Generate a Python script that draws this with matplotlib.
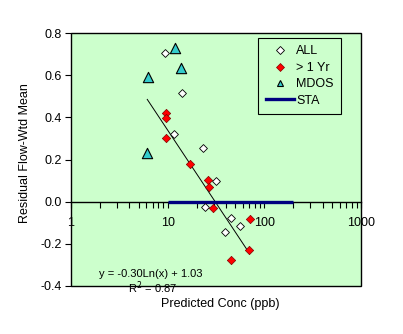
import matplotlib
matplotlib.use("Agg")
import matplotlib.pyplot as plt
import numpy as np
from matplotlib.patches import Rectangle
from matplotlib.ticker import LogLocator, NullFormatter, FixedLocator

plt.rcParams["font.family"] = ["Liberation Sans", "DejaVu Sans"]

# ALL (open diamonds)
all_x = [9.4, 14.0, 11.6, 23.2, 31.3, 24.1, 45.2, 55.6, 38.8]
all_y = [0.707, 0.517, 0.323, 0.256, 0.098, -0.024, -0.076, -0.114, -0.142]

# > 1 Yr (red diamonds)
yr_x = [9.5, 9.5, 9.5, 17.0, 26.1, 26.7, 29.4, 70.5, 68.8, 45.2]
yr_y = [0.421, 0.399, 0.304, 0.179, 0.104, 0.071, -0.028, -0.082, -0.228, -0.278]

# MDOS (triangles)
mdos_x = [11.9, 13.6, 6.25, 6.15]
mdos_y = [0.728, 0.633, 0.59, 0.232]

# STA line
sta_x = [10, 200]
sta_y = [0, 0]

# log trendline y = a*ln(x) + b
trend_a = -0.30
trend_b = 1.03
trend_xrange = [6.15, 70.5]

x_ticks = [1, 10, 100, 1000]
y_ticks = [-0.4, -0.2, 0.0, 0.2, 0.4, 0.6, 0.8]

fig = plt.figure(figsize=(4.03, 3.34), dpi=100)
ax = fig.add_axes([71 / 403, 1 - 286 / 334, 290 / 403, 253 / 334])
ax.set_facecolor("#CCFFCC")

ax.set_xscale("log")
ax.set_xlim(1, 1000)
ax.set_ylim(-0.4, 0.8)

tx = np.array(trend_xrange)
ax.plot(tx, trend_a * np.log(tx) + trend_b, color="black", lw=0.7, zorder=2)

ax.plot(sta_x, sta_y, color="#000080", lw=2.4, solid_capstyle="butt", zorder=3)

ax.scatter(all_x, all_y, marker="D", s=16, facecolor="white",
           edgecolor="black", linewidths=0.6, zorder=4)
ax.scatter(yr_x, yr_y, marker="D", s=18, facecolor="#FF0000",
           edgecolor="#800000", linewidths=0.5, zorder=4)
ax.scatter(mdos_x, mdos_y, marker="^", s=55, facecolor="#33CCCC",
           edgecolor="black", linewidths=0.8, zorder=4)

# x axis crosses at y = 0
for s in ["top", "right", "left"]:
    ax.spines[s].set_visible(False)
ax.spines["bottom"].set_position(("data", 0))
ax.spines["bottom"].set_linewidth(1.0)
ax.add_patch(Rectangle((0, 0), 1, 1, transform=ax.transAxes, fill=False,
                       lw=1.0, edgecolor="black", clip_on=False, zorder=5))

ax.xaxis.set_major_locator(FixedLocator(x_ticks))
ax.xaxis.set_minor_locator(LogLocator(base=10, subs=np.arange(2, 10)))
ax.xaxis.set_minor_formatter(NullFormatter())
ax.set_xticklabels([str(v) for v in x_ticks])
ax.tick_params(axis="x", which="both", direction="out", length=4, width=0.8,
               pad=7, labelsize=9)

ax.set_yticks(y_ticks)
ax.set_yticklabels([f"{v:.1f}" for v in y_ticks])
ax.tick_params(axis="y", direction="out", length=4, width=0.8, pad=2.5,
               labelsize=9)

fig.text(25 / 403, 1 - 153 / 334, "Residual Flow-Wtd Mean", rotation=90,
         ha="center", va="center", fontsize=9)
fig.text(220 / 403, 1 - 304 / 334, "Predicted Conc (ppb)", ha="center",
         va="center", fontsize=9)

fig.text(151 / 403, 1 - 274 / 334, "y = -0.30Ln(x) + 1.03", ha="center",
         va="center", fontsize=8)
fig.text(153 / 403, 1 - 288 / 334, "R$^2$ = 0.87", ha="center",
         va="center", fontsize=8)

# legend box
lg = ax.legend(
    handles=[
        plt.Line2D([], [], marker="D", ls="none", ms=4, mfc="white", mec="black", mew=0.6),
        plt.Line2D([], [], marker="D", ls="none", ms=4, mfc="#FF0000", mec="#800000", mew=0.5),
        plt.Line2D([], [], marker="^", ls="none", ms=5, mfc="#33CCCC", mec="black", mew=0.8),
        plt.Line2D([], [], color="#000080", lw=2.4),
    ],
    labels=["ALL", "> 1 Yr", "MDOS", "STA"],
    loc="upper left", bbox_to_anchor=((258 - 71) / 290, 1 - (38 - 33) / 253),
    borderaxespad=0,
    frameon=True, fancybox=False, framealpha=1, fontsize=9,
    handlelength=2.3, handletextpad=0.15, borderpad=0.6, labelspacing=0.35,
)
lg.get_frame().set_edgecolor("black")
lg.get_frame().set_facecolor("#CCFFCC")
lg.get_frame().set_linewidth(0.8)
lg.set_zorder(6)

fig.savefig("out.png", dpi=100)
